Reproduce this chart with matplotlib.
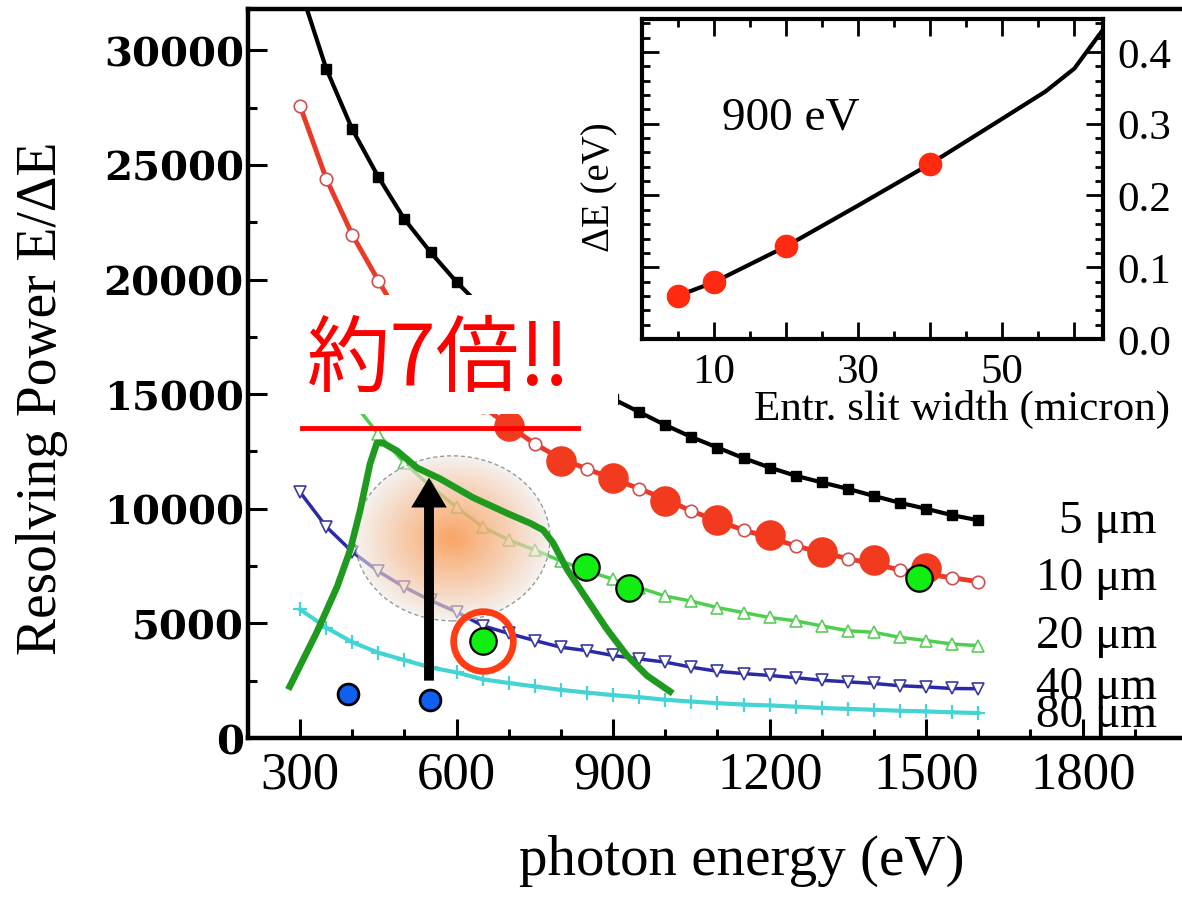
import numpy as np
import matplotlib
matplotlib.use('Agg')
import matplotlib.pyplot as plt
from matplotlib.patches import Ellipse, Rectangle
from matplotlib.ticker import MultipleLocator

# resolving power E/dE vs photon energy, one curve per entrance slit width
energy = [300, 350, 400, 450, 500, 550, 600, 650, 700, 750, 800, 850, 900, 950,
          1000, 1050, 1100, 1150, 1200, 1250, 1300, 1350, 1400, 1450, 1500, 1550, 1600]
rp_5um = [32700, 29200, 26550, 24470, 22630, 21190, 19890, 18740, 17750, 16890, 16120, 15430, 14790, 14220,
          13650, 13130, 12670, 12210, 11800, 11440, 11150, 10870, 10560, 10260, 10000, 9720, 9500]
rp_10um = [27560, 24400, 21950, 19950, 18000, 16620, 15460, 14460, 13620, 12830, 12180, 11740, 11300, 10880,
           10420, 9900, 9480, 9070, 8750, 8380, 8090, 7830, 7580, 7340, 7150, 6990, 6820]
rp_20um = [19000, 16700, 14700, 13250, 12000, 10980, 10060, 9200, 8640, 8200, 7720, 7300, 6920, 6560,
           6190, 5970, 5690, 5470, 5260, 5110, 4890, 4680, 4610, 4390, 4250, 4100, 4030]
rp_40um = [10720, 9220, 8120, 7270, 6580, 6000, 5500, 4900, 4560, 4250, 3960, 3810, 3600, 3450,
           3310, 3090, 2910, 2810, 2730, 2630, 2520, 2450, 2380, 2280, 2230, 2160, 2150]
rp_80um = [5610, 4820, 4180, 3720, 3400, 3080, 2860, 2560, 2400, 2250, 2100, 1980, 1870, 1780,
           1670, 1590, 1520, 1460, 1420, 1370, 1310, 1270, 1230, 1190, 1160, 1120, 1090]

# measured points (10 um)
meas_energy = [700, 800, 900, 1000, 1100, 1200, 1300, 1400, 1500]
meas_rp = [13600, 12090, 11360, 10360, 9500, 8850, 8120, 7770, 7430]

slit_labels = ['5 μm', '10 μm', '20 μm', '40 μm', '80 μm']
x_ticks = [300, 600, 900, 1200, 1500, 1800]
y_ticks = [0, 5000, 10000, 15000, 20000, 25000, 30000]

# inset: dE at 900 eV vs slit width
slit_w = [5, 10, 20, 40]
slit_dE = [0.060, 0.079, 0.129, 0.244]
curve_w = [5, 10, 20, 30, 40, 50, 56, 60, 63, 65]
curve_dE = [0.060, 0.079, 0.129, 0.186, 0.244, 0.307, 0.345, 0.377, 0.418, 0.445]
inset_xticks = [10, 20, 30, 40, 50, 60]
inset_xlabels = ['10', '', '30', '', '50', '']
inset_yticks = [0.0, 0.1, 0.2, 0.3, 0.4]
inset_ylabels = ['0.0', '0.1', '0.2', '0.3', '0.4']

# hand-drawn overlay (green sketch curve, dots)
sketch_x = [280, 332, 371, 396, 415, 434, 447, 459, 486, 524, 568, 631, 697, 741,
            766, 785, 812, 850, 888, 927, 965, 1009]
sketch_y = [2245, 4620, 6607, 8204, 9931, 11961, 12868, 12868, 12522, 11788, 11313, 10493, 9802, 9370,
            9068, 8506, 7341, 6045, 4750, 3584, 2720, 2029]
blue_x = [392, 549]
blue_y = [1940, 1680]
green_x = [650, 848, 930, 1486]
green_y = [4230, 7470, 6560, 7000]

serif = 'Liberation Serif'

fig = plt.figure(figsize=(11.82, 9.03), dpi=100)
ax = fig.add_axes([0.2098, 0.1816, 0.7944, 0.8073])

ax.plot(energy, rp_80um, color='#45d3d3', lw=3, marker='+', ms=10, mew=1.6, zorder=2)
ax.plot(energy, rp_40um, color='#2a2aa6', lw=2.5, marker='v', ms=9, mfc='white', mec='#3b3b9e', mew=1.2, zorder=2)
ax.plot(energy, rp_20um, color='#4fcf4f', lw=2.5, marker='^', ms=9, mfc='white', mec='#5ccc5c', mew=1.2, zorder=2)
ax.plot(energy, rp_10um, color='#ea3a26', lw=3.5, marker='o', ms=9, mfc='white', mec='#d05050', mew=1.2, zorder=2)
ax.plot(meas_energy, meas_rp, ls='none', marker='o', ms=21, color='#f23a1e', mec='#f23a1e', zorder=2)
ax.plot(energy, rp_5um, color='black', lw=3, marker='s', ms=7.5, zorder=2)

label_y = [8980, 6480, 3970, 1730, 520]
for t, y in zip(slit_labels, label_y):
    ax.text(1942, y, t, ha='right', va='baseline', fontsize=34, fontfamily=serif)

# white patch hiding part of the curves behind the comment
ax.add_patch(Rectangle((277, 14120), 632, 5225, facecolor='white', edgecolor='none', zorder=3))

# orange glow
cx, cy, ew, eh = 592, 8710, 374, 7200
n = 300
u = np.linspace(-1, 1, n)
uu, vv = np.meshgrid(u, u)
r = np.sqrt(uu**2 + vv**2)
w = np.clip(1 - r, 0, 1) ** 0.75
orange = np.array([0.98, 0.60, 0.32])
grey = np.array([0.93, 0.93, 0.93])
rgba = np.zeros((n, n, 4))
rgba[..., :3] = w[..., None] * orange + (1 - w[..., None]) * grey
rgba[..., 3] = np.where(r <= 1, 0.55 + 0.35 * w, 0)
img = ax.imshow(rgba, extent=(cx - ew / 2, cx + ew / 2, cy - eh / 2, cy + eh / 2),
                aspect='auto', origin='lower', zorder=4, interpolation='bilinear')
ell = Ellipse((cx, cy), ew, eh, facecolor='none', edgecolor='#9a9a9a', lw=1, ls=(0, (3, 2)), zorder=4)
ax.add_patch(ell)
img.set_clip_path(ell)

ax.plot(sketch_x, sketch_y, color='#1f9a1f', lw=4.8, solid_joinstyle='round', zorder=5)
ax.plot([303, 832], [13515, 13515], color='#ff0000', lw=3.5, zorder=5)
ax.arrow(547, 2504, 0, 11356 - 2504, width=19, head_width=68, head_length=1300,
         length_includes_head=True, fc='black', ec='none', zorder=6)
ax.plot(blue_x, blue_y, ls='none', marker='o', ms=15, mfc='#1060f0', mec='black', mew=2, zorder=6)
ax.plot(green_x, green_y, ls='none', marker='o', ms=19, mfc='#11ee11', mec='black', mew=1.6, zorder=6)
ax.plot([green_x[0]], [green_y[0]], ls='none', marker='o', ms=43, mfc='none', mec='#ff3c14', mew=4.8, zorder=7)
ax.text(566, 16500, '約7倍‼', color='#ff0000', fontsize=60,
        fontfamily=['Noto Sans CJK JP', 'DejaVu Sans'], ha='center', va='center', zorder=8)

ax.set_xlim(200, 2000)
ax.set_ylim(0, 31800)
ax.set_xticks(x_ticks, [str(v) for v in x_ticks], fontfamily=serif, fontsize=38)
ax.set_yticks(y_ticks, [str(v) for v in y_ticks], fontfamily='DejaVu Serif', fontweight='bold', fontsize=29)
ax.xaxis.set_minor_locator(MultipleLocator(100))
ax.yaxis.set_minor_locator(MultipleLocator(2500))
ax.tick_params(which='both', direction='in', top=False, right=False, width=2.2)
ax.tick_params(which='major', length=13.5)
ax.tick_params(which='minor', length=6.5)
ax.tick_params(axis='x', pad=9)
ax.tick_params(axis='y', pad=3)
for s in ax.spines.values():
    s.set_linewidth(3.2)
ax.spines['right'].set_visible(False)

ax.set_xlabel('photon energy (eV)', fontfamily=serif, fontsize=41)
ax.xaxis.set_label_coords(0.526, -0.1315)
ax.set_ylabel('Resolving Power E/ΔE', fontfamily=serif, fontsize=40)
ax.yaxis.set_label_coords(-0.1917, 0.4678)

# inset
ax_in = fig.add_axes([0.5429, 0.6235, 0.3905, 0.3544])
ax_in.plot(curve_w, curve_dE, color='black', lw=3, zorder=2)
ax_in.plot(slit_w, slit_dE, ls='none', marker='o', ms=16, color='#ff2a10', mec='#ff2a10', zorder=3)
ax_in.set_xlim(0, 64)
ax_in.set_ylim(0, 0.446)
ax_in.set_xticks(inset_xticks, inset_xlabels, fontfamily=serif, fontsize=31)
ax_in.set_yticks(inset_yticks, inset_ylabels, fontfamily=serif, fontsize=31)
ax_in.xaxis.set_minor_locator(MultipleLocator(5))
ax_in.yaxis.set_minor_locator(MultipleLocator(0.02))
ax_in.tick_params(which='both', direction='in', top=True, right=True, left=True, bottom=True,
                  labelleft=False, labelright=True, width=2)
ax_in.tick_params(which='major', length=12)
ax_in.tick_params(which='minor', length=6)
ax_in.tick_params(axis='both', pad=10)
for s in ax_in.spines.values():
    s.set_linewidth(3)
ax_in.text(11.2, 0.293, '900 eV', fontfamily=serif, fontsize=34, ha='left', va='baseline')
ax_in.set_xlabel('Entr. slit width (micron)', fontfamily=serif, fontsize=31)
ax_in.xaxis.set_label_coords(0.694, -0.156)
ax_in.set_ylabel('ΔE (eV)', fontfamily=serif, fontsize=28)
ax_in.yaxis.set_label_coords(-0.051, 0.478)

fig.savefig('out.png', dpi=100)
